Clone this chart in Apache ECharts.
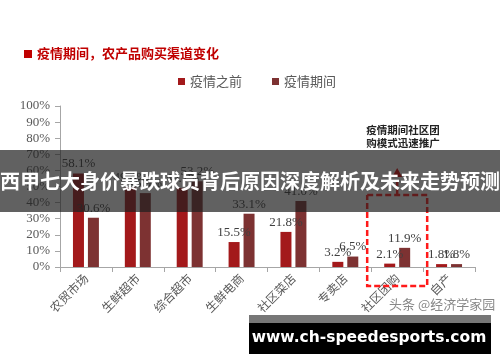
<!DOCTYPE html>
<html><head><meta charset="utf-8">
<script src="https://cdn.jsdelivr.net/npm/echarts@6/dist/echarts.min.js"></script>
<style>html,body{margin:0;padding:0;background:#fff}#c{width:500px;height:362px}</style>
</head><body><div id="c"></div>
<script>
var categories = ['农贸市场','生鲜超市','综合超市','生鲜电商','社区菜店','专卖店','社区团购','自产'];
var beforeVals = [58.1, 49.4, 49.1, 15.5, 21.8, 3.2, 2.1, 1.8];
var duringVals = [30.6, 45.9, 53.2, 33.1, 41.0, 6.5, 11.9, 1.8];
var seriesNames = ['疫情之前','疫情期间'];
var yTicks = [0,10,20,30,40,50,60,70,80,90,100];
var title = '疫情期间，农产品购买渠道变化';
var note = ['疫情期间社区团','购模式迅速推广'];
var banner = '西甲七大身价暴跌球员背后原因深度解析及未来走势预测';
var site = 'www.ch-speedesports.com';
var mark = '头条 @经济学家园';

var cBefore = '#a3191b', cDuring = '#7d3232';
var serif = '"Liberation Serif","DejaVu Serif",serif';
var cjk = '"Noto Sans CJK SC",sans-serif';

var chart = echarts.init(document.getElementById('c'), null, {renderer:'canvas'});
function lbl(){return {show:true,position:'top',distance:3,color:'#404040',fontFamily:serif,fontSize:13,formatter:function(p){return p.value.toFixed(1)+'%';}};}
chart.setOption({
  animation:false,
  backgroundColor:'#fff',
  legend:{data:seriesNames,left:173,top:70,itemWidth:7,itemHeight:7,itemGap:30,icon:'rect',
    textStyle:{color:'#595959',fontFamily:cjk,fontSize:13}},
  grid:{left:60,right:25,top:106,bottom:95},
  xAxis:{type:'category',data:categories,
    axisLine:{lineStyle:{color:'#a6a6a6'}},
    axisTick:{show:true,interval:0,lineStyle:{color:'#a6a6a6'},length:5},
    axisLabel:{interval:0,rotate:45,color:'#595959',fontFamily:cjk,fontSize:12,margin:9}},
  yAxis:{type:'value',min:yTicks[0],max:yTicks[yTicks.length-1],interval:10,
    splitLine:{show:false},
    axisLine:{show:true,lineStyle:{color:'#a6a6a6'}},
    axisTick:{show:true,inside:false,length:5,lineStyle:{color:'#a6a6a6'}},
    axisLabel:{color:'#595959',fontFamily:serif,fontSize:13,margin:10,formatter:'{value}%'}},
  series:[
    {name:seriesNames[0],type:'bar',data:beforeVals,barWidth:11,barGap:'36%',itemStyle:{color:cBefore},label:lbl()},
    {name:seriesNames[1],type:'bar',data:duringVals,barWidth:11,itemStyle:{color:cDuring},label:lbl()}
  ]
});

var cx = chart.convertToPixel({xAxisIndex:0}, categories[6]);
var yBottom = chart.convertToPixel({yAxisIndex:0}, 0) + 19;
var yTop = 195, half = 30;
chart.setOption({graphic:[
  {type:'rect',shape:{x:24,y:50,width:8,height:8},style:{fill:'#c00000'}},
  {type:'text',left:37,top:47,style:{text:title,fill:'#c00000',font:'bold 13px '+cjk}},
  {type:'text',x:cx-31,y:124,style:{text:note.join('\n'),fill:'#222',font:'bold 10.5px '+cjk,lineHeight:13}},
  {type:'polyline',shape:{points:[[cx-half,yTop],[cx+half,yTop],[cx+half,yBottom],[cx-half,yBottom],[cx-half,yTop]]},
    style:{stroke:'#ff1a1a',lineWidth:2.5,lineDash:[6,3],fill:null},z:10},
  {type:'line',shape:{x1:cx,y1:yTop,x2:cx,y2:176},style:{stroke:'#ff1a1a',lineWidth:2.5,lineDash:[6,3]},z:10},
  {type:'polygon',shape:{points:[[cx-5,177],[cx+5,177],[cx,168]]},style:{fill:'#e00000'},z:10},
  {type:'rect',shape:{x:0,y:150,width:500,height:62},style:{fill:'rgba(30,30,30,0.7)'},z:50},
  {type:'text',x:250,y:181,style:{text:banner,fill:'#fff',font:'bold 20px '+cjk,textAlign:'center',textVerticalAlign:'middle'},z:51},
  {type:'text',x:389,y:298,style:{text:mark,fill:'#888',stroke:'#fff',lineWidth:1,font:'13px '+cjk},z:40},
  {type:'rect',shape:{x:249,y:315,width:242,height:8},style:{fill:'#777'},z:50},
  {type:'rect',shape:{x:249,y:323,width:242,height:31},style:{fill:'#000'},z:50},
  {type:'text',x:369,y:338,style:{text:site,fill:'#fff',font:'bold 15.5px "DejaVu Sans",sans-serif',textAlign:'center',textVerticalAlign:'middle'},z:51}
]});
</script></body></html>
